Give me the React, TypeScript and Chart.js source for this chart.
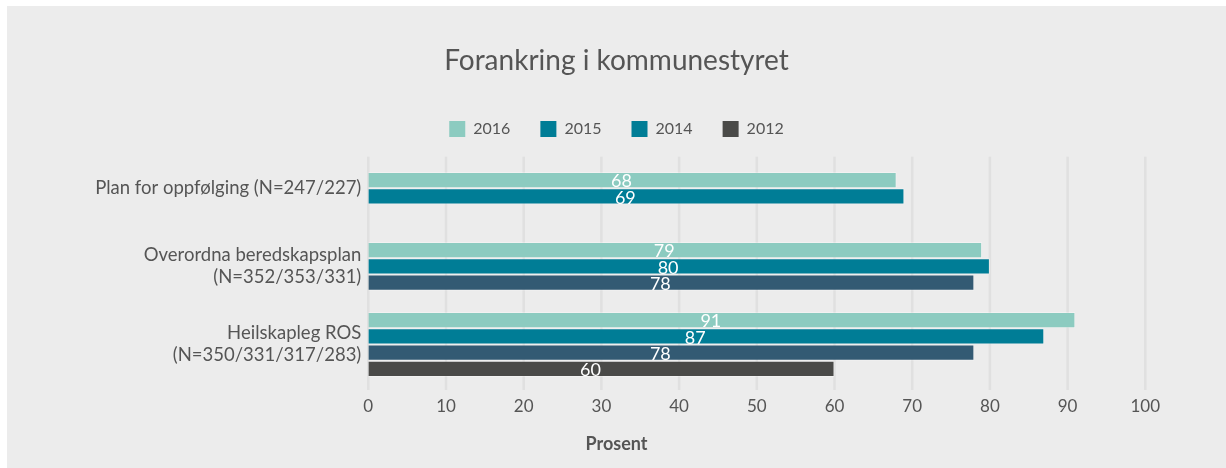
import { useEffect, useRef } from "react";
import { Chart, registerables } from "chart.js";

Chart.register(...registerables);

const FONT = "Lato, 'Open Sans', sans-serif";
const TEXT = "#555555";
const BG = "#ececec";
const GRID = "#e0e0e0";

const titleText = "Forankring i kommunestyret";
const axisTitle = "Prosent";

const categories: string[][] = [
  ["Plan for oppfølging (N=247/227)"],
  ["Overordna beredskapsplan", "(N=352/353/331)"],
  ["Heilskapleg ROS", "(N=350/331/317/283)"],
];

const years = ["2016", "2015", "2014", "2012"];
const values2016 = [68, 79, 91];
const values2015 = [69, 80, 87];
const values2014 = [null, 78, 78];
const values2012 = [null, null, 60];

const barColors = ["#8ccbc0", "#007d96", "#335a73", "#4a4a48"];
const legendColors = ["#8ccbc0", "#007d96", "#007d96", "#4a4a48"];

const xMin = 0;
const xMax = 100;
const xStep = 10;

const legendSpacer = {
  id: "legendSpacer",
  beforeLayout(chart: any) {
    const lg = chart.legend;
    if (lg && !lg.__patched) {
      const orig = lg.fit;
      lg.fit = function () {
        orig.call(this);
        this.height += 22.5;
      };
      lg.__patched = true;
    }
  },
};

const gridPlugin = {
  id: "gridPlugin",
  beforeDatasetsDraw(chart: any) {
    const { ctx, chartArea, scales } = chart;
    const x = scales.x;
    ctx.save();
    ctx.strokeStyle = GRID;
    ctx.lineWidth = 2.5;
    x.ticks.forEach((t: any) => {
      const px = x.getPixelForValue(t.value);
      ctx.beginPath();
      ctx.moveTo(px, chartArea.top - 12.8);
      ctx.lineTo(px, chartArea.bottom + 10.5);
      ctx.stroke();
    });
    ctx.restore();
  },
};

const valueLabels = {
  id: "valueLabels",
  afterDatasetsDraw(chart: any) {
    const { ctx } = chart;
    ctx.save();
    ctx.fillStyle = "#ffffff";
    ctx.font = `18px ${FONT}`;
    ctx.textAlign = "center";
    ctx.textBaseline = "middle";
    chart.getSortedVisibleDatasetMetas().forEach((meta: any) => {
      const ds = chart.data.datasets[meta.index];
      meta.data.forEach((el: any, i: number) => {
        const v = ds.data[i];
        if (v == null) return;
        const p = el.getProps(["x", "y", "base"], true);
        ctx.fillText(String(v), (p.x + p.base) / 2 - 11, p.y + 1.5);
      });
    });
    ctx.restore();
  },
};

const categoryLabels = {
  id: "categoryLabels",
  afterDraw(chart: any) {
    const { ctx, chartArea } = chart;
    const metas = chart.getSortedVisibleDatasetMetas();
    ctx.save();
    ctx.fillStyle = TEXT;
    ctx.font = `18.5px ${FONT}`;
    ctx.textAlign = "right";
    ctx.textBaseline = "middle";
    const lineH = 22;
    categories.forEach((lines, i) => {
      let top = Infinity;
      let bottom = -Infinity;
      metas.forEach((meta: any) => {
        const ds = chart.data.datasets[meta.index];
        if (ds.data[i] == null) return;
        const el = meta.data[i];
        const p = el.getProps(["y", "height"], true);
        top = Math.min(top, p.y - p.height / 2);
        bottom = Math.max(bottom, p.y + p.height / 2);
      });
      const cy = (top + bottom) / 2;
      const start = cy - ((lines.length - 1) * lineH) / 2;
      lines.forEach((ln, k) => {
        ctx.fillText(ln, chartArea.left - 7, start + k * lineH);
      });
    });
    ctx.restore();
  },
};

export default function App() {
  const ref = useRef<HTMLCanvasElement | null>(null);

  useEffect(() => {
    if (!ref.current) return;
    const seriesValues = [values2016, values2015, values2014, values2012];
    const chart = new Chart(ref.current, {
      type: "bar",
      data: {
        labels: categories,
        datasets: years.map((y, i) => ({
          label: y,
          data: seriesValues[i] as any,
          backgroundColor: barColors[i],
          borderColor: "rgba(255,255,255,0.3)",
          borderWidth: 1,
          categoryPercentage: 0.93,
          barPercentage: 1.0,
          yAxisID: "y",
        })),
      },
      options: {
        indexAxis: "y",
        responsive: false,
        animation: false,
        layout: { padding: 0 },
        scales: {
          x: {
            type: "linear",
            min: xMin,
            max: xMax,
            ticks: {
              stepSize: xStep,
              color: TEXT,
              font: { family: FONT, size: 17 },
              padding: 17.3,
            },
            grid: { display: false, drawTicks: false },
            border: { display: false },
          },
          y: {
            type: "category",
            position: "left",
            display: true,
            ticks: { display: false },
            grid: { display: false, drawTicks: false },
            border: { display: false },
            afterFit: (s: any) => {
              s.width = 361.3;
            },
          },
          yr: {
            type: "category",
            position: "right",
            display: true,
            ticks: { display: false },
            grid: { display: false, drawTicks: false },
            border: { display: false },
            afterFit: (s: any) => {
              s.width = 80.7;
            },
          },
        },
        plugins: {
          tooltip: { enabled: false },
          title: {
            display: true,
            text: titleText,
            color: TEXT,
            font: { family: FONT, size: 28, weight: "normal" },
            padding: { top: 38, bottom: 13.4 },
          },
          subtitle: {
            display: true,
            text: axisTitle,
            position: "bottom",
            color: TEXT,
            font: { family: FONT, size: 18, weight: "bold", lineHeight: 1 },
            padding: { top: 0.2, bottom: 15.3 },
          },
          legend: {
            display: true,
            position: "top",
            labels: {
              color: TEXT,
              font: { family: FONT, size: 16 },
              boxWidth: 16,
              boxHeight: 16,
              padding: 30,
              generateLabels: (c: any) => {
                const items = Chart.defaults.plugins.legend.labels.generateLabels(c);
                return items.map((it: any, i: number) => ({
                  ...it,
                  fillStyle: legendColors[i],
                  strokeStyle: legendColors[i],
                  lineWidth: 0,
                }));
              },
            },
          },
        },
      },
      plugins: [legendSpacer, gridPlugin, valueLabels, categoryLabels],
    });
    return () => chart.destroy();
  }, []);

  return (
    <div
      style={{
        position: "fixed",
        left: 7,
        top: 6,
        width: 1219,
        height: 462,
        background: BG,
      }}
    >
      <canvas ref={ref} width={1219} height={462} style={{ display: "block" }} />
    </div>
  );
}
